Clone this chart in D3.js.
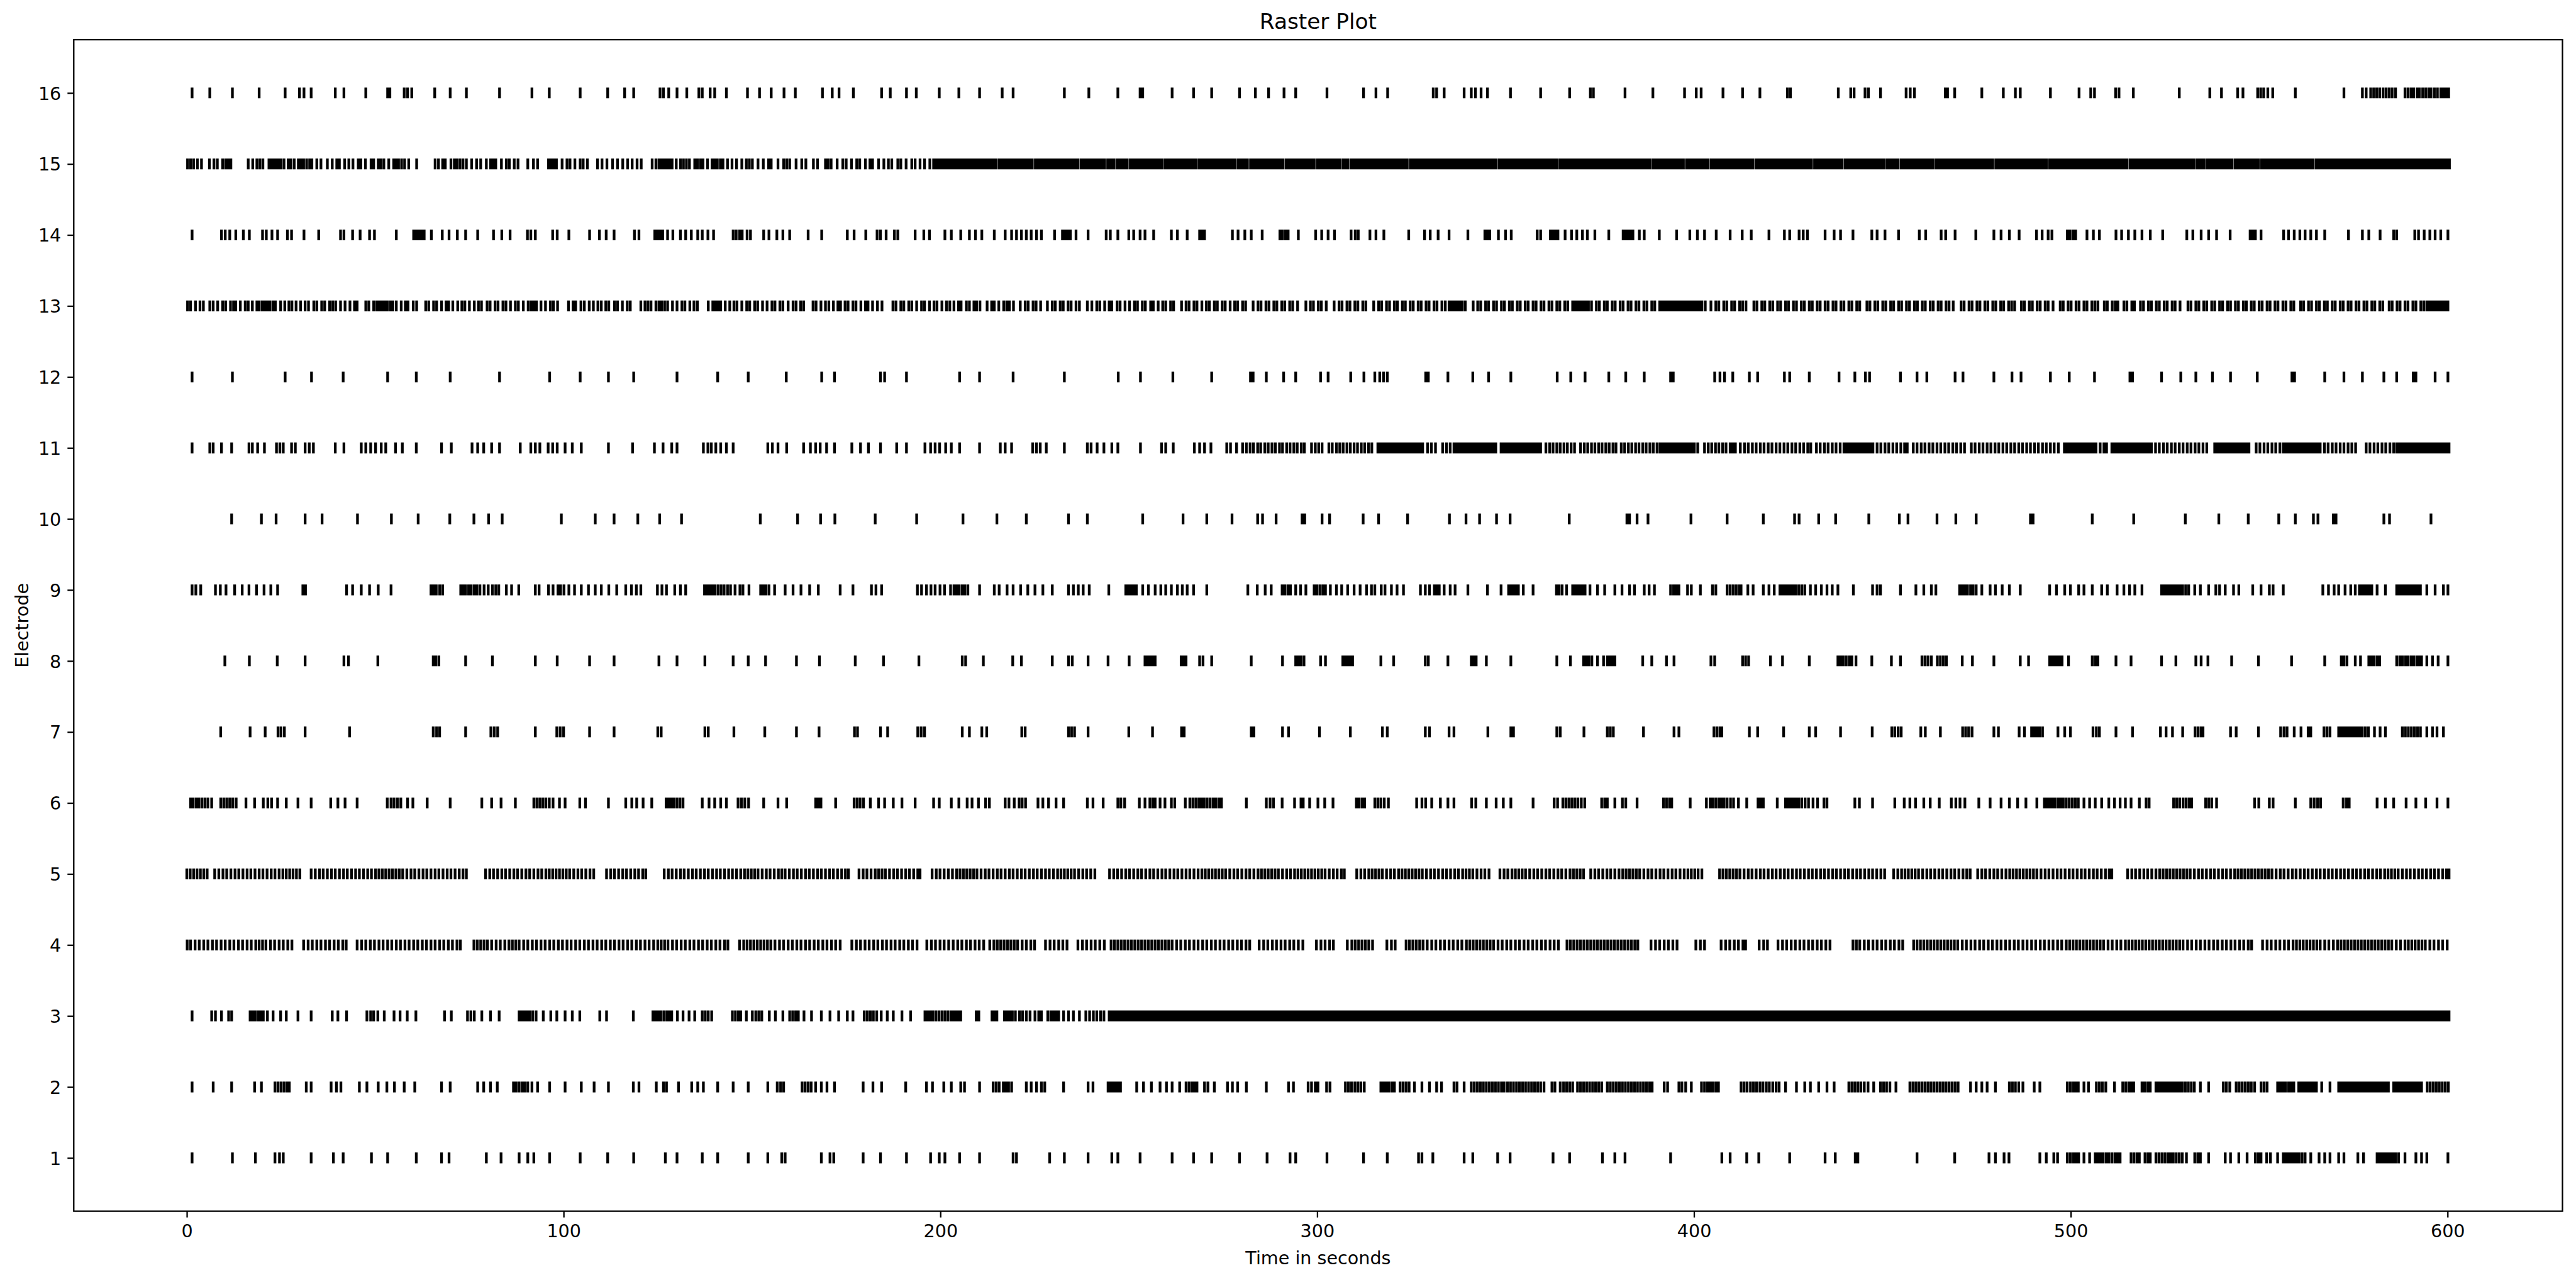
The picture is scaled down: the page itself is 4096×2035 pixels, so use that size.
<!DOCTYPE html>
<html><head><meta charset="utf-8">
<script src="https://cdn.jsdelivr.net/npm/d3@7"></script>
<style>html,body{margin:0;padding:0;background:#fff;}svg{display:block;}</style>
</head><body>
<script>
const chartTitle = "Raster Plot";
const xLabel = "Time in seconds";
const yLabel = "Electrode";
const xTicks = [0, 100, 200, 300, 400, 500, 600];
const electrodes = [1, 2, 3, 4, 5, 6, 7, 8, 9, 10, 11, 12, 13, 14, 15, 16];

const e1 = [1.4,12.1,18.2,23.4,24.6,25.6,33.0,38.9,41.5,49.0,53.3,60.9,67.6,69.6,79.5,83.4,88.2,90.5,92.1,96.3,104.4,111.7,118.6,127.0,130.1,136.8,140.9,149.0,154.2,157.9,158.8,168.4,170.7,171.7,179.5,184.1,191.0,197.4,199.7,201.2,
205.1,210.4,219.3,220.2,229.0,232.9,239.2,245.5,247.1,253.0,261.5,267.2,272.0,279.4,286.7,292.8,294.3,302.6,312.3,318.6,326.9,327.8,330.7,339.0,341.3,347.9,351.2,362.6,367.0,375.7,379.0,381.7,393.8,
407.4,409.6,414.0,417.2,425.4,434.8,437.5,442.8,443.5,459.2,469.2,478.3,480.0,482.3,483.6,491.8,493.5,495.5,496.5,499.1,499.9,500.7,501.4,502.1,503.5,505.0,506.5,507.2,507.9,508.6,509.4,510.1,510.9,511.7,512.4,513.1,516.0,516.8,517.6,518.2,519.7,520.5,521.1,522.6,523.4,524.2,525.0,525.8,526.5,527.2,528.0,528.8,529.6,530.7,532.9,533.7,534.4,536.6,541.0,542.4,544.6,546.8,549.0,549.8,550.5,552.0,553.0,554.9,556.4,557.1,557.8,558.5,559.2,559.9,560.6,561.4,562.2,563.7,565.9,567.4,568.8,571.1,572.5,576.2,577.7,581.3,582.0,582.7,583.4,584.1,584.8,585.5,586.2,587.0,588.7,591.6,593.1,594.5,600.1];

const e2 = [1.4,7.0,11.9,18.0,19.8,23.4,24.2,25.0,25.8,26.6,27.2,31.7,33.0,38.3,39.7,40.9,45.8,47.8,50.8,53.1,55.1,57.7,60.5,67.6,69.9,77.2,78.8,80.6,82.4,86.7,87.4,88.2,89.0,89.7,90.5,91.6,93.1,96.3,100.4,104.7,108.1,111.9,118.5,120.0,124.6,126.5,127.3,130.5,134.0,135.6,137.1,140.9,145.0,149.0,154.2,156.7,157.6,158.4,163.3,164.1,164.9,165.7,166.9,168.4,169.9,171.9,179.5,182.1,184.4,190.8,196.3,197.9,200.9,
202.9,205.4,206.4,210.4,214.0,214.8,215.6,216.7,217.4,218.1,218.9,222.8,224.1,225.5,226.8,227.7,232.7,239.2,240.5,244.5,245.2,245.9,246.6,247.3,247.8,252.1,253.9,256.0,258.3,260.0,261.5,263.5,265.2,266.0,266.8,267.5,268.1,270.1,271.0,272.7,276.2,277.5,278.9,281.2,286.5,292.4,293.7,297.6,298.5,299.5,300.2,302.5,303.4,307.5,308.3,309.1,310.0,310.8,311.6,312.5,316.9,317.6,318.3,319.0,319.8,320.5,322.0,322.8,323.6,324.4,325.8,327.8,329.8,331.7,333.0,336.3,337.1,339.0,
340.9,341.7,342.5,343.3,344.1,344.9,345.7,346.5,347.3,348.1,348.9,349.6,350.5,351.3,352.1,352.9,353.7,354.5,355.3,356.1,356.9,357.7,358.5,359.3,360.2,362.3,363.1,364.5,365.4,366.2,367.0,367.8,369.1,369.9,370.7,371.5,372.3,373.1,373.9,374.7,375.5,377.0,377.8,378.6,379.4,380.2,381.0,381.8,382.6,383.4,384.2,385.0,385.8,386.6,387.4,388.2,388.9,392.1,393.0,396.0,396.8,397.8,399.3,402.0,402.8,403.6,
404.3,405.0,405.8,406.5,412.5,413.3,414.1,415.0,415.8,416.6,417.5,418.3,419.2,420.0,420.9,421.8,422.6,424.3,427.2,429.4,430.9,433.1,435.3,437.2,441.1,441.9,442.7,443.5,444.3,445.2,446.2,447.7,449.5,450.3,451.1,452.0,453.6,457.3,458.1,458.9,459.7,460.5,461.3,462.1,462.9,463.7,464.5,465.3,466.1,466.9,467.7,468.5,469.3,470.1,473.4,474.9,476.4,477.8,480.0,483.7,484.5,485.3,486.2,487.3,490.3,491.8,499.1,499.9,500.7,501.4,502.0,503.5,504.7,506.8,507.6,508.4,509.3,511.6,513.8,514.6,515.4,516.1,516.7,518.9,519.6,520.4,521.1,522.6,523.3,524.0,524.7,525.4,526.1,526.8,527.5,528.2,528.9,529.6,530.4,531.2,532.0,532.8,534.4,536.6,540.5,541.3,542.2,543.9,544.7,545.5,546.3,547.1,547.9,548.8,550.5,551.3,552.1,554.9,555.6,556.3,557.0,557.8,558.5,559.2,560.5,561.2,561.9,562.6,563.3,564.0,564.7,565.2,566.6,568.8,571.1,571.8,572.5,573.2,573.9,574.6,575.3,576.0,576.7,577.4,578.1,578.8,579.5,580.2,580.9,581.6,582.3,583.0,583.7,584.3,585.7,586.4,587.1,587.8,588.5,589.2,589.9,590.6,591.3,592.0,592.7,593.1,594.6,595.4,596.2,597.0,597.8,598.6,599.4,600.2];

const e3 = [1.4,6.6,7.6,9.2,11.1,11.9,16.8,17.5,18.2,19.0,19.7,20.3,21.4,22.9,24.9,26.4,29.5,33.0,38.6,40.1,42.4,47.8,48.8,49.6,50.7,52.4,55.0,56.6,58.5,60.8,68.4,70.2,74.5,75.4,76.3,78.3,80.6,82.9,88.2,88.9,89.6,90.3,91.0,91.8,92.7,94.6,96.6,98.2,100.4,102.3,104.3,109.6,111.4,118.5,123.7,124.4,125.1,125.8,126.6,127.4,128.1,128.7,130.2,131.7,133.3,134.8,136.8,137.6,138.4,139.3,144.8,145.6,146.4,147.0,148.5,150.1,151.0,151.8,152.6,154.6,156.2,158.2,160.0,160.8,161.6,162.3,163.8,165.8,168.4,170.7,173.0,175.3,176.8,179.8,180.6,181.4,182.2,183.1,184.3,185.9,187.5,189.8,192.1,195.9,196.6,197.3,198.0,198.8,199.6,200.4,201.2,202.0,202.8,
203.5,204.2,204.9,205.4,209.5,210.2,213.7,214.4,215.0,217.0,217.7,218.4,219.1,219.9,221.0,221.8,222.8,223.8,225.1,226.1,226.8,228.5,229.3,230.0,230.7,231.4,232.7,234.0,235.3,236.9,238.6,239.6,240.6,241.5,242.5,243.4,
244.8,245.5,246.2,246.9,247.6,248.3,249.0,249.7,250.4,251.1,251.8,252.5,253.2,253.9,254.6,255.3,256.0,256.7,257.4,258.1,
258.8,259.5,260.2,260.9,261.6,262.3,263.0,263.7,264.4,265.1,265.8,266.5,267.2,267.9,268.6,269.3,270.0,270.7,271.4,272.1,
272.8,273.5,274.2,274.9,275.6,276.3,277.0,277.7,278.4,279.1,279.8,280.5,281.2,281.9,282.6,283.3,284.0,284.7,285.4,286.1,
286.8,287.5,288.2,288.9,289.6,290.3,291.0,291.7,292.4,293.1,293.8,294.5,295.2,295.9,296.6,297.3,298.0,298.7,299.4,300.1,
300.8,301.5,302.2,302.9,303.6,304.3,305.0,305.7,306.4,307.1,307.8,308.5,309.2,309.9,310.6,311.3,312.0,312.7,313.4,314.1,
314.8,315.5,316.2,316.9,317.6,318.3,319.0,319.7,320.4,321.1,321.8,322.5,323.2,323.9,324.6,325.3,326.0,326.7,327.4,328.1,
328.8,329.5,330.2,330.9,331.6,332.3,333.0,333.7,334.4,335.1,335.8,336.5,337.2,337.9,338.6,339.3,340.0,340.7,341.4,342.1,
342.8,343.5,344.2,344.9,345.6,346.3,347.0,347.7,348.4,349.1,349.8,350.5,351.2,351.9,352.6,353.3,354.0,354.7,355.4,356.1,
356.8,357.5,358.2,358.9,359.6,360.3,361.0,361.7,362.4,363.1,363.8,364.5,365.2,365.9,366.6,367.3,368.0,368.7,369.4,370.1,
370.8,371.5,372.2,372.9,373.6,374.3,375.0,375.7,376.4,377.1,377.8,378.5,379.2,379.9,380.6,381.3,382.0,382.7,383.4,384.1,
384.8,385.5,386.2,386.9,387.6,388.3,389.0,389.7,390.4,391.1,391.8,392.5,393.2,393.9,394.6,395.3,396.0,396.7,397.4,398.1,
398.8,399.5,400.2,400.9,401.6,402.3,403.0,403.7,404.4,405.1,405.8,406.5,407.2,407.9,408.6,409.3,410.0,410.7,411.4,412.1,
412.8,413.5,414.2,414.9,415.6,416.3,417.0,417.7,418.4,419.1,419.8,420.5,421.2,421.9,422.6,423.3,424.0,424.7,425.4,426.1,
426.8,427.5,428.2,428.9,429.6,430.3,431.0,431.7,432.4,433.1,433.8,434.5,435.2,435.9,436.6,437.3,438.0,438.7,439.4,440.1,
440.8,441.5,442.2,442.9,443.6,444.3,445.0,445.7,446.4,447.1,447.8,448.5,449.2,449.9,450.6,451.3,452.0,452.7,453.4,454.1,
454.8,455.5,456.2,456.9,457.6,458.3,459.0,459.7,460.4,461.1,461.8,462.5,463.2,463.9,464.6,465.3,466.0,466.7,467.4,468.1,
468.8,469.5,470.2,470.9,471.6,472.3,473.0,473.7,474.4,475.1,475.8,476.5,477.2,477.9,478.6,479.3,480.0,480.7,481.4,482.1,
482.8,483.5,484.2,484.9,485.6,486.3,487.0,487.7,488.4,489.1,489.8,490.5,491.2,491.9,492.6,493.3,494.0,494.7,495.4,496.1,
496.8,497.5,498.2,498.9,499.6,500.3,501.0,501.7,502.4,503.1,503.8,504.5,505.2,505.9,506.6,507.3,508.0,508.7,509.4,510.1,
510.8,511.5,512.2,512.9,513.6,514.3,515.0,515.7,516.4,517.1,517.8,518.5,519.2,519.9,520.6,521.3,522.0,522.7,523.4,524.1,
524.8,525.5,526.2,526.9,527.6,528.3,529.0,529.7,530.4,531.1,531.8,532.5,533.2,533.9,534.6,535.3,536.0,536.7,537.4,538.1,
538.8,539.5,540.2,540.9,541.6,542.3,543.0,543.7,544.4,545.1,545.8,546.5,547.2,547.9,548.6,549.3,550.0,550.7,551.4,552.1,
552.8,553.5,554.2,554.9,555.6,556.3,557.0,557.7,558.4,559.1,559.8,560.5,561.2,561.9,562.6,563.3,564.0,564.7,565.4,566.1,
566.8,567.5,568.2,568.9,569.6,570.3,571.0,571.7,572.4,573.1,573.8,574.5,575.2,575.9,576.6,577.3,578.0,578.7,579.4,580.1,
580.8,581.5,582.2,582.9,583.6,584.3,585.0,585.7,586.4,587.1,587.8,588.5,589.2,589.9,590.6,591.3,592.0,592.7,593.4,594.1,
594.8,595.5,596.2,596.9,597.6,598.3,599.0,599.7,600.4];

const e4 = [0.1,1.0,2.2,3.3,4.5,5.6,6.8,7.9,9.1,10.2,11.4,12.5,13.7,14.8,16.0,17.1,18.3,19.2,20.1,21.0,22.2,23.3,24.5,25.6,26.8,27.9,31.0,32.2,33.3,34.5,35.6,36.8,37.9,39.1,40.2,41.4,42.3,45.2,46.4,47.5,48.7,49.8,51.0,52.1,53.3,54.4,55.6,56.7,57.9,59.0,60.2,61.3,62.5,63.6,64.8,65.9,67.1,68.2,69.4,70.5,71.7,72.6,76.2,77.1,78.0,78.9,79.8,80.9,82.1,83.2,84.4,85.5,86.4,87.3,88.2,89.4,90.5,91.7,92.8,94.0,95.1,96.3,97.4,98.6,99.7,100.9,102.0,103.2,104.3,105.5,106.6,107.8,108.9,110.1,111.2,112.4,113.5,114.7,115.8,117.0,118.1,119.3,120.4,121.6,122.7,123.9,125.0,125.9,126.8,127.7,128.9,130.0,131.2,132.3,133.5,134.6,135.8,136.9,138.1,139.2,140.4,141.5,142.7,143.6,146.7,147.8,148.7,149.6,150.5,151.4,152.3,153.2,154.1,155.0,156.1,157.3,158.4,159.6,160.7,161.9,163.0,164.2,165.3,166.5,167.6,168.8,169.9,171.1,172.2,173.4,176.5,177.7,178.8,180.0,181.1,182.3,183.4,184.6,185.7,186.9,188.0,189.2,190.3,191.5,192.6,193.8,196.4,197.6,198.7,199.9,201.0,202.2,
203.4,204.6,205.7,206.9,208.0,209.2,210.3,211.5,213.1,214.2,215.1,216.0,216.9,217.8,218.7,219.6,220.5,221.7,222.8,224.0,225.0,227.9,229.1,230.2,231.4,232.5,233.6,236.5,237.7,238.8,240.0,241.1,242.3,243.5,245.3,246.2,247.1,248.0,248.9,249.8,250.7,251.6,252.5,253.4,254.3,255.2,256.1,257.0,257.9,258.8,259.7,260.6,261.5,262.7,263.8,265.0,266.1,267.3,268.4,269.6,270.7,271.9,273.0,274.2,275.3,276.5,277.6,278.8,279.9,281.1,282.1,284.6,285.8,286.9,288.1,289.2,290.4,291.5,292.7,293.8,295.0,296.2,299.8,301.0,302.1,303.3,304.3,308.0,309.2,310.1,311.0,311.9,312.8,313.7,314.7,318.5,319.7,320.7,323.6,324.5,325.4,326.3,327.2,328.1,329.2,330.4,331.5,332.7,333.8,335.0,336.1,337.3,338.4,339.6,340.5,341.4,342.3,343.2,344.1,345.0,345.9,346.8,348.0,349.1,350.3,351.4,352.6,353.7,354.9,356.0,357.2,358.3,359.5,360.6,361.8,362.9,364.0,366.3,367.2,368.1,369.0,369.9,370.8,371.7,372.6,373.5,374.4,375.3,376.2,377.1,378.0,378.9,379.8,380.7,381.6,382.5,383.4,384.3,385.1,388.6,389.8,390.9,392.1,393.2,394.4,395.5,400.5,401.7,402.8,
407.2,408.4,409.5,410.7,411.8,413.0,413.7,417.3,418.5,419.5,422.3,423.5,424.6,425.8,426.9,428.1,429.2,430.4,431.5,432.7,433.8,435.0,436.1,442.2,443.1,444.0,445.2,446.3,447.5,448.6,449.8,450.9,452.1,453.2,454.4,455.4,458.3,459.2,460.1,461.0,461.9,462.8,463.7,464.6,465.5,466.4,467.3,468.2,469.1,470.0,471.2,472.3,473.5,474.6,475.8,476.9,478.1,479.2,480.4,481.5,482.7,483.8,485.0,486.1,487.3,488.4,489.6,490.7,491.9,493.0,494.2,495.3,496.5,497.6,498.8,499.7,500.6,501.5,502.4,503.3,504.2,505.1,506.0,506.9,507.8,508.7,509.9,511.0,512.2,513.3,514.5,515.4,516.3,517.2,518.1,519.0,519.9,520.8,521.7,522.6,523.5,524.4,525.3,526.2,527.1,528.0,528.9,529.8,531.0,532.1,533.3,534.4,535.6,536.7,537.9,539.0,540.2,541.3,542.5,543.6,544.8,545.9,547.1,548.0,550.9,552.1,553.2,554.4,555.5,556.7,557.8,559.0,559.9,560.8,561.7,562.6,563.5,564.4,565.3,566.2,567.4,568.5,569.7,570.8,571.7,572.6,573.5,574.4,575.3,576.2,577.1,578.0,578.9,579.8,580.7,581.6,582.5,583.4,584.3,585.2,586.4,587.5,588.7,589.6,590.5,591.4,592.3,593.2,594.1,595.3,596.4,597.6,598.7,599.9];

const e5 = [0.0,0.9,1.8,2.7,3.6,4.5,5.4,7.4,8.5,9.6,10.6,11.7,12.8,13.8,14.9,16.0,17.0,18.1,19.2,20.2,21.3,22.4,23.4,24.5,25.5,26.4,27.3,28.2,29.1,30.0,33.0,34.1,35.2,36.2,37.3,38.4,39.4,40.5,41.6,42.6,43.7,44.8,45.8,46.9,48.0,49.0,50.1,51.0,51.9,52.8,53.7,54.6,55.5,56.4,57.3,58.4,59.5,60.5,61.6,62.7,63.7,64.8,65.9,66.9,68.0,69.1,70.1,71.2,72.3,73.3,74.2,79.3,80.4,81.4,82.5,83.6,84.6,85.7,86.8,87.8,88.9,90.0,91.0,92.1,93.2,94.2,95.3,96.2,97.1,98.0,98.9,99.8,100.7,101.6,102.7,103.8,104.8,105.9,107.0,108.0,111.4,112.5,113.5,114.6,115.7,116.7,117.8,118.9,119.9,121.0,121.8,126.7,127.8,128.8,129.9,131.0,132.0,133.1,134.2,135.2,136.3,137.4,138.4,139.5,140.6,141.6,142.7,143.8,144.8,145.9,147.0,148.0,148.9,149.8,150.7,151.6,152.7,153.8,154.8,155.9,157.0,157.9,158.8,159.9,161.0,162.0,163.1,164.2,165.2,166.3,167.4,168.4,169.5,170.6,171.6,172.7,173.8,174.8,175.6,178.4,179.5,180.5,181.6,182.7,183.6,184.5,185.4,186.5,187.6,188.6,189.7,190.8,191.8,192.9,194.0,194.6,197.8,198.9,199.9,201.0,202.1,
203.2,204.3,205.2,206.1,207.0,207.9,208.8,209.7,210.8,211.9,212.9,214.0,215.1,216.1,217.2,218.3,219.3,220.4,221.5,222.5,223.6,224.7,225.7,226.8,227.9,228.9,230.0,231.1,232.0,232.9,233.8,234.7,235.6,236.7,237.8,238.8,239.9,241.0,244.9,246.0,247.0,248.1,249.2,250.2,251.3,252.4,253.4,254.5,255.6,256.6,257.7,258.8,259.8,260.9,262.0,263.0,264.1,265.2,266.2,267.3,268.4,269.4,270.3,271.2,272.1,273.0,273.9,274.8,275.7,276.8,277.9,278.9,280.0,281.1,282.1,283.2,284.3,285.2,286.1,287.0,287.9,288.8,289.7,290.8,291.9,292.9,294.0,294.9,295.8,296.7,297.6,298.5,299.4,300.3,301.2,302.1,303.2,304.3,305.3,306.4,307.2,310.5,311.6,312.6,313.7,314.6,315.5,316.4,317.3,318.4,319.5,320.5,321.6,322.5,323.4,324.3,325.2,326.1,327.0,327.9,329.0,330.1,331.1,332.2,333.3,334.3,335.4,336.5,337.5,338.6,339.5,340.4,341.3,342.4,343.5,344.5,345.6,348.5,349.6,350.6,351.7,352.6,353.5,354.4,355.3,356.4,357.5,358.5,359.6,360.7,361.7,362.8,363.9,364.9,366.0,367.1,368.0,368.9,369.8,370.7,372.6,373.7,374.7,375.8,376.9,377.9,379.0,380.1,381.1,382.0,382.9,383.8,384.7,385.6,386.7,387.8,388.8,389.9,391.0,392.0,393.1,394.2,395.2,396.3,397.4,398.4,399.3,400.2,401.1,402.1,
406.8,407.7,408.6,409.5,410.4,411.3,412.2,413.3,414.4,415.4,416.5,417.6,418.6,419.7,420.8,421.8,422.9,424.0,425.0,426.1,427.2,428.2,429.3,430.4,431.4,432.5,433.6,434.6,435.7,436.8,437.8,438.9,440.0,441.0,442.1,443.2,444.2,445.3,446.4,447.4,448.5,449.6,450.6,453.0,454.1,455.1,456.0,456.9,457.8,458.7,459.6,460.7,461.8,462.8,463.9,465.0,466.0,467.1,468.2,469.2,470.3,471.4,472.4,473.3,475.3,476.4,477.4,478.5,479.6,480.6,481.7,482.8,483.8,484.7,485.6,486.5,487.4,488.3,489.2,490.1,491.0,492.1,493.2,494.2,495.3,496.4,497.4,498.5,499.6,500.6,501.7,502.8,503.8,504.9,506.0,507.0,508.1,509.2,510.2,510.9,515.1,516.2,517.2,518.3,519.4,520.4,521.5,522.6,523.6,524.5,525.4,526.3,527.2,528.1,529.0,529.9,530.8,531.7,532.8,533.9,534.9,536.0,537.1,538.1,539.2,540.3,541.3,542.4,543.5,544.4,545.3,546.2,547.1,548.0,548.9,549.8,550.7,551.6,552.5,553.4,554.5,555.6,556.6,557.7,558.8,559.8,560.9,562.0,563.0,564.1,565.2,566.2,567.3,568.4,569.4,570.5,571.6,572.6,573.7,574.8,575.8,576.9,578.0,579.0,580.1,581.2,582.2,583.3,584.2,585.1,586.0,586.9,588.0,589.1,590.1,591.2,592.3,593.3,594.4,595.5,596.5,597.6,598.7,599.7,600.4];

const e6 = [1.0,1.7,2.5,3.2,4.0,4.8,5.6,6.6,9.0,9.8,10.6,11.4,12.2,13.1,15.7,18.0,20.3,21.5,22.5,24.1,26.4,29.5,33.0,38.2,40.1,42.0,45.2,53.2,54.2,55.0,55.9,56.8,58.6,60.0,63.8,69.9,78.3,80.9,83.4,87.2,92.1,92.9,93.7,94.5,95.3,96.2,97.2,98.9,100.4,104.3,105.8,111.9,116.5,118.1,119.4,121.1,123.4,127.2,127.9,128.6,129.3,130.1,130.9,131.7,136.8,138.6,140.1,141.7,143.2,146.3,147.2,148.1,149.1,153.1,156.9,159.2,166.9,167.6,168.3,172.2,177.1,177.9,178.7,179.6,181.4,183.6,185.2,187.5,189.8,193.3,198.2,199.7,
202.9,204.9,207.1,208.4,210.1,212.0,213.0,217.2,218.2,219.6,220.9,221.7,222.6,225.9,227.2,228.7,230.7,232.7,239.0,240.5,243.2,247.1,247.9,248.9,252.8,254.3,255.6,256.4,257.0,258.3,259.6,261.3,262.2,265.0,266.2,267.0,267.8,268.6,269.3,270.0,270.8,271.6,272.4,273.1,273.9,274.6,281.2,286.5,287.5,288.4,290.7,294.0,295.7,296.3,298.0,300.2,302.0,304.2,310.4,311.1,311.9,312.6,315.3,316.1,316.9,317.8,318.9,326.4,327.8,328.8,330.4,332.7,334.7,336.3,341.0,342.1,344.9,347.5,349.4,351.4,357.3,362.9,363.8,365.2,366.0,366.8,367.6,368.4,369.2,370.1,371.0,375.5,376.3,377.0,379.0,381.0,381.9,384.9,391.9,392.7,393.5,394.1,399.0,403.3,
404.3,405.0,405.8,406.6,407.3,408.0,408.8,409.7,410.5,411.8,414.0,417.0,417.7,418.4,422.1,424.3,425.0,425.7,426.4,427.1,427.8,428.6,429.5,430.4,431.6,432.8,434.5,435.3,442.7,443.9,447.4,453.3,455.8,457.3,458.8,461.0,462.7,465.1,468.3,469.5,470.6,471.9,475.6,478.6,481.5,483.7,485.9,488.1,491.0,493.0,493.7,494.4,495.1,495.8,496.6,497.3,498.0,498.8,499.6,500.4,501.2,502.0,503.5,505.0,506.5,508.2,510.1,511.6,513.1,514.5,516.0,518.2,520.0,520.8,527.3,528.1,528.9,529.8,530.6,531.4,532.1,535.8,536.6,537.4,538.7,548.8,549.9,552.7,553.7,559.6,563.7,564.6,565.5,566.3,572.3,573.2,573.9,581.3,583.5,585.7,589.0,591.6,594.2,597.2,600.1];

const e7 = [9.0,16.8,20.8,24.2,25.0,25.9,31.4,43.2,65.4,66.3,67.1,74.0,80.7,81.6,82.5,92.5,98.2,99.1,100.0,106.9,113.4,125.0,125.9,137.5,138.4,145.2,153.4,161.8,167.8,177.2,178.0,184.1,186.0,194.0,194.9,195.8,
205.8,207.7,211.0,212.3,221.6,222.5,234.0,234.8,235.6,239.2,250.0,256.3,264.0,264.7,282.5,283.2,290.8,292.4,300.6,308.8,317.3,318.6,328.7,329.8,335.0,336.3,345.3,351.4,352.1,363.6,364.5,370.8,377.0,377.8,378.6,386.6,394.7,396.0,
405.3,406.1,406.9,407.4,414.7,416.9,423.8,430.6,432.3,438.9,447.3,452.5,453.3,454.2,455.0,460.2,461.4,465.4,471.3,472.1,472.9,473.8,479.6,480.8,486.3,487.7,489.6,490.3,491.0,491.7,492.5,496.6,498.4,499.9,505.9,506.8,507.6,512.0,516.4,523.8,525.3,527.0,529.7,533.0,533.8,534.6,535.1,542.4,543.9,549.8,555.7,556.6,557.4,559.3,561.1,563.0,563.7,567.2,568.0,568.8,571.1,571.8,572.5,573.2,573.9,574.6,575.3,576.0,576.7,577.4,578.2,579.0,580.6,582.1,583.5,588.0,588.8,589.6,590.4,591.2,592.0,592.8,594.5,596.0,597.2,598.9];

const e8 = [10.1,16.6,24.0,31.4,41.7,42.9,50.7,65.4,66.1,66.9,74.0,81.1,92.5,98.3,106.9,113.4,125.3,130.1,137.5,145.0,149.0,153.6,161.8,167.9,177.4,184.9,194.3,
205.8,206.7,211.4,219.2,221.5,229.7,234.0,235.0,239.2,244.5,250.1,254.3,255.0,255.7,256.4,257.0,263.9,264.6,265.2,268.8,269.7,272.0,282.5,290.8,294.3,295.0,295.7,296.5,300.9,302.2,306.8,307.5,308.2,308.9,309.4,316.9,320.3,328.7,329.5,334.7,340.9,341.6,342.2,344.9,351.4,363.6,367.2,370.7,371.4,372.1,372.9,374.4,376.0,377.0,377.7,378.4,379.0,386.4,388.8,392.7,394.7,
404.5,405.5,412.9,413.7,414.5,420.3,423.5,430.6,438.2,438.9,439.6,440.4,441.2,441.9,443.0,447.2,452.4,454.8,460.5,461.3,462.1,463.0,464.6,465.4,466.2,467.0,471.2,473.9,479.6,486.6,488.8,494.4,495.1,495.8,496.5,497.2,497.7,499.4,505.7,506.5,507.2,512.0,516.0,524.1,527.9,533.2,534.6,536.4,542.7,549.8,558.6,567.4,571.8,572.5,573.3,575.5,576.9,579.1,579.8,580.5,581.3,582.0,586.5,587.3,588.0,588.8,589.5,590.3,591.0,591.8,592.5,593.1,594.5,596.0,597.5,600.1];

const e9 = [1.4,2.4,3.7,7.6,8.9,10.4,12.7,14.7,16.5,18.5,20.5,22.3,24.1,30.8,31.5,42.4,44.0,46.3,48.5,50.8,54.2,64.8,65.5,66.2,67.1,67.9,72.7,73.4,74.0,74.8,75.5,76.3,77.0,77.8,78.9,80.0,81.1,82.0,82.8,84.8,86.2,88.1,92.5,93.5,96.0,97.2,98.5,99.2,100.1,101.4,102.9,104.7,106.6,108.4,110.0,112.0,114.1,116.5,118.0,119.3,120.5,124.9,126.1,127.3,129.5,131.0,132.4,137.4,138.1,138.8,139.5,140.2,141.0,141.8,142.6,143.5,144.3,145.5,146.8,147.6,149.2,152.3,153.0,153.7,154.5,156.0,158.8,160.9,163.0,165.3,167.6,173.4,176.8,181.7,182.9,184.4,193.9,195.0,196.3,197.5,198.6,199.9,201.1,202.7,
203.6,204.3,205.0,205.8,206.5,207.3,210.4,214.3,215.6,217.7,219.3,221.3,223.2,225.1,227.2,229.7,234.0,235.3,236.6,237.9,239.5,244.7,249.2,249.9,250.6,251.3,252.0,253.7,255.2,257.0,258.5,259.8,261.3,262.9,264.2,265.5,267.2,270.7,281.6,284.1,286.2,287.8,290.7,291.4,292.2,292.9,294.3,295.6,297.0,299.2,299.9,300.7,301.5,302.2,303.5,305.1,306.5,308.1,309.8,311.4,313.1,314.4,315.3,317.0,318.0,319.7,321.2,322.9,327.4,328.7,329.8,331.1,331.8,332.4,333.7,335.3,336.6,340.0,345.2,348.8,350.8,351.5,352.2,352.9,353.4,354.7,357.3,363.5,364.2,365.0,366.2,367.8,368.5,369.2,369.9,370.5,371.1,372.4,374.4,376.3,379.0,380.9,382.9,384.2,386.8,388.1,389.5,393.8,394.6,395.3,396.0,398.3,399.3,401.7,
404.9,405.8,408.8,409.6,410.4,411.2,412.0,412.5,414.3,415.7,418.4,419.9,421.3,422.8,423.5,424.2,424.9,425.6,426.3,427.0,427.8,428.6,429.4,430.9,432.3,433.8,435.3,436.7,438.2,442.3,447.4,448.6,449.5,454.8,458.9,461.0,463.0,464.2,470.5,471.2,471.9,472.6,473.4,474.1,474.9,476.4,478.6,480.0,481.8,483.7,486.6,494.4,496.2,498.4,499.9,502.1,503.5,505.7,508.2,509.7,512.3,514.1,515.6,517.0,518.9,524.1,524.8,525.5,526.2,526.9,527.6,528.3,529.0,529.7,530.5,531.3,532.9,534.4,536.6,538.5,539.5,541.0,543.2,544.6,548.3,550.5,552.7,553.7,556.4,566.9,568.4,569.9,571.1,572.8,574.3,575.5,576.6,577.3,578.0,578.7,579.4,579.9,581.3,583.5,586.5,587.2,587.9,588.6,589.3,590.0,590.7,591.4,592.1,592.8,594.5,596.7,598.9,600.1];

const e10 = [11.9,19.8,23.7,31.4,35.9,45.3,54.3,61.4,69.8,76.2,80.1,83.7,99.4,108.4,113.4,119.7,125.5,131.3,152.2,162.1,168.2,172.0,182.7,193.7,206.0,215.0,222.8,234.0,239.0,253.7,264.4,270.7,277.4,284.2,285.5,289.1,296.0,296.7,301.3,303.3,312.2,316.3,324.0,335.1,339.5,343.1,347.6,351.2,366.9,382.2,382.9,384.9,387.8,399.2,408.8,418.4,426.7,427.9,433.1,437.6,446.4,454.5,456.8,464.5,469.5,474.9,489.3,490.0,505.7,516.7,530.4,539.3,547.1,555.2,559.6,564.4,565.6,569.7,570.4,583.1,584.6,595.6];

const e11 = [1.4,6.1,7.0,9.2,11.9,16.5,17.4,18.8,20.6,23.8,24.7,25.6,27.8,28.8,31.4,32.5,33.6,39.4,41.7,46.3,47.5,48.8,50.1,51.6,52.8,55.4,57.2,60.9,67.6,70.2,75.7,77.2,78.8,80.9,83.0,88.5,91.3,92.5,93.7,95.9,97.1,98.3,100.4,102.3,104.7,111.9,118.3,124.1,126.4,128.7,130.1,137.1,138.3,139.2,140.4,141.7,143.2,145.0,154.2,155.4,156.9,159.2,163.7,165.5,166.9,168.1,169.8,171.9,176.5,178.8,180.9,184.1,188.4,191.0,195.9,197.4,198.6,199.8,201.4,202.9,
205.1,210.4,215.9,217.2,218.9,224.5,225.5,226.5,228.1,232.9,239.0,240.0,241.6,243.4,245.5,247.1,253.1,258.7,259.8,261.8,267.4,268.8,270.1,271.8,276.0,277.0,278.6,280.2,
281.2,282.2,283.1,284.2,285.0,286.1,287.0,288.0,288.9,290.0,290.8,291.9,292.8,293.8,294.7,295.8,296.6,298.5,299.5,300.4,301.3,303.1,304.0,305.1,306.0,306.9,307.9,308.8,309.8,310.7,311.7,312.6,313.6,314.5,316.1,316.8,317.5,318.2,318.9,319.6,320.3,321.0,321.7,322.4,323.1,323.8,324.5,325.2,325.9,326.6,327.3,328.0,329.3,330.3,331.4,333.3,334.3,335.3,336.3,337.0,337.7,338.4,339.1,339.8,340.5,341.2,341.9,342.6,343.3,344.0,344.7,345.4,346.1,346.8,347.4,348.8,349.5,350.2,350.9,351.6,352.3,353.0,353.7,354.4,355.1,355.8,356.5,357.2,357.9,358.6,359.3,360.7,361.7,362.6,363.6,364.5,365.5,366.4,367.4,368.3,369.9,370.9,371.8,372.8,373.7,374.7,375.6,376.6,377.5,378.5,379.3,380.7,381.6,382.6,383.5,384.5,385.4,386.4,387.3,388.3,389.2,390.2,391.0,391.7,392.4,393.1,393.8,394.5,395.2,395.9,396.6,397.3,398.0,398.7,399.4,400.1,401.0,402.8,403.8,404.7,405.7,406.6,407.6,408.5,409.6,410.3,411.0,412.3,413.4,414.4,415.5,416.5,417.6,418.6,419.7,420.7,421.8,422.8,423.9,424.9,426.0,427.0,428.1,429.1,430.2,431.0,432.5,433.5,434.6,435.6,436.7,437.7,438.8,439.8,440.5,441.2,441.9,442.6,443.3,444.0,444.7,445.4,446.1,446.8,447.5,448.6,449.6,450.7,451.7,452.8,453.8,454.9,455.9,456.6,458.2,459.2,460.3,461.3,462.4,463.4,464.5,465.5,466.6,467.6,468.7,469.7,470.8,471.8,473.6,474.6,475.7,476.7,477.8,478.8,479.9,480.9,482.0,483.0,484.1,485.1,486.2,487.2,488.3,489.3,490.4,491.4,492.5,493.5,494.6,495.6,496.7,498.3,499.0,499.7,500.4,501.1,501.8,502.5,503.2,503.9,504.6,505.3,506.0,506.7,507.8,508.8,509.5,510.9,511.6,512.3,513.0,513.7,514.4,515.1,515.8,516.5,517.2,517.9,518.6,519.3,520.0,520.7,521.4,522.5,523.5,524.6,525.6,526.7,527.7,528.8,529.8,530.9,531.9,533.0,534.0,535.1,536.1,538.2,538.9,539.6,540.3,541.0,541.7,542.4,543.1,543.8,544.5,545.2,545.9,546.6,547.3,549.2,550.2,551.3,552.3,553.4,554.4,555.5,556.4,557.1,557.8,558.5,559.2,559.9,560.6,561.3,562.0,562.7,563.4,564.1,564.8,565.5,566.2,567.3,568.3,569.4,570.4,571.5,572.5,573.6,574.6,575.6,578.4,579.4,580.5,581.5,582.6,583.6,584.7,585.7,586.5,587.2,587.9,588.6,589.3,590.0,590.7,591.4,592.1,592.8,593.5,594.2,594.9,595.6,596.3,597.0,597.7,598.4,599.1,599.8,600.4];

const e12 = [1.4,12.1,26.1,33.1,41.5,53.3,60.9,69.9,83.0,96.3,104.4,111.9,118.6,130.1,140.9,149.0,159.1,168.5,171.9,184.1,185.2,191.0,205.1,210.4,219.3,232.9,247.2,253.1,261.7,272.0,282.3,283.0,286.5,291.1,294.3,300.9,302.9,308.9,312.4,315.3,316.6,317.6,318.6,328.8,329.5,334.7,341.3,345.5,351.4,363.7,367.3,371.1,377.4,381.9,386.8,393.8,394.5,405.5,406.9,408.1,410.3,414.7,416.9,424.0,425.4,430.6,438.5,442.7,445.5,446.6,454.8,459.2,461.8,469.3,471.4,479.6,484.4,486.8,494.6,499.6,506.3,515.7,516.4,524.1,529.2,533.2,537.6,542.4,549.5,558.7,559.4,567.4,572.5,577.4,583.1,586.5,590.9,591.6,596.7,600.1];

const e13 = [0.2,1.0,2.3,3.5,4.4,6.1,7.0,8.2,9.5,10.3,11.6,12.4,13.0,14.2,15.5,16.3,17.4,18.6,19.2,20.0,20.6,21.3,22.0,22.8,23.5,24.9,26.0,27.1,27.9,29.0,30.2,31.4,32.3,33.7,34.5,35.8,36.6,37.9,38.7,39.5,40.8,42.0,43.3,44.5,45.2,47.5,48.3,49.6,50.4,51.1,51.8,52.5,53.2,54.0,54.7,55.6,56.9,58.0,58.7,60.1,61.0,63.4,64.2,65.5,66.3,67.6,68.8,69.5,70.6,71.9,73.0,73.8,75.0,76.3,77.4,78.2,79.7,80.5,81.8,82.6,83.9,84.7,85.9,87.2,88.0,89.3,90.6,91.4,92.1,92.8,94.0,95.2,96.5,97.3,98.4,101.3,102.5,103.2,104.6,105.5,106.8,107.9,109.1,110.0,111.2,112.0,113.5,114.3,115.6,116.9,117.7,120.5,121.6,122.4,123.2,124.5,125.3,126.0,126.8,127.6,128.9,130.1,131.4,132.2,133.5,134.6,135.5,138.4,139.6,140.3,141.0,141.7,142.9,144.1,145.2,146.0,147.3,148.6,149.4,150.7,151.5,152.8,154.0,155.3,156.1,157.4,158.2,159.6,160.9,161.7,162.9,163.7,166.2,167.0,168.3,169.5,170.4,171.6,172.8,173.5,174.7,175.5,176.8,177.6,178.9,180.1,180.8,182.0,183.3,184.5,187.4,188.2,189.5,190.3,191.6,192.4,193.7,195.0,195.8,197.1,198.3,199.1,200.4,201.6,202.5,
203.6,204.8,205.5,206.9,207.7,208.9,209.6,210.5,212.4,213.6,214.3,215.5,216.8,217.6,218.3,219.4,221.2,222.5,223.3,224.6,225.4,226.6,228.4,229.7,230.5,231.8,232.6,233.9,234.7,236.0,236.9,239.0,240.2,241.5,242.3,243.6,244.8,245.5,246.9,247.7,249.0,250.2,251.5,252.3,253.6,254.4,255.8,256.5,257.8,259.0,259.8,261.1,261.9,264.0,265.2,266.0,267.3,268.1,269.4,270.6,271.4,272.7,273.5,274.8,275.6,276.9,278.1,278.9,280.2,281.0,283.0,284.3,285.1,286.4,287.2,288.5,289.3,290.6,291.4,292.7,293.5,294.8,297.0,298.2,299.0,300.3,301.1,302.4,304.5,305.8,306.6,307.9,308.7,310.0,310.8,312.1,312.9,315.0,316.3,317.1,318.4,319.2,320.5,321.3,322.6,323.4,324.7,325.5,326.8,327.6,328.9,329.7,331.0,331.8,333.1,334.0,335.0,335.7,336.4,337.1,337.8,338.5,339.3,341.4,342.6,343.4,344.7,345.5,346.8,347.6,348.9,349.7,351.0,351.8,353.1,353.9,355.2,356.0,357.3,358.1,359.4,360.2,361.5,362.3,363.6,364.4,365.7,366.5,367.8,368.5,369.2,369.9,370.6,371.3,372.0,372.8,374.1,374.9,376.2,377.0,378.3,379.1,380.4,381.2,382.5,383.3,384.6,385.4,386.7,387.5,388.8,389.6,390.9,391.6,392.3,393.0,393.7,394.4,395.1,395.8,396.5,397.2,397.9,398.6,399.3,400.0,400.7,401.4,402.1,403.0,
404.5,405.8,406.6,407.9,408.7,410.0,410.8,412.1,412.9,413.8,415.9,416.7,418.0,418.8,420.1,420.9,422.2,423.0,424.3,425.1,426.4,427.2,428.5,429.3,430.6,431.4,432.7,433.5,434.8,435.6,436.9,437.7,439.0,439.8,441.1,441.9,443.2,444.0,445.9,446.7,448.0,448.8,450.1,450.9,452.2,453.0,454.3,455.1,456.4,457.2,458.5,459.3,460.6,461.4,462.7,463.5,464.8,465.6,466.9,467.7,468.8,470.9,471.7,473.0,473.8,475.1,475.9,477.2,478.0,479.3,480.1,481.4,482.2,483.5,484.3,485.1,486.9,487.7,489.0,489.8,491.1,491.9,493.2,494.0,495.3,497.2,498.0,499.3,500.1,501.4,502.2,503.5,504.3,505.6,506.4,507.2,508.9,509.7,511.0,511.8,512.5,514.1,514.9,516.2,516.9,518.5,519.3,520.6,521.4,522.7,523.5,524.8,525.6,526.9,527.7,529.0,531.1,531.9,533.2,534.0,535.3,536.1,537.4,538.2,539.5,540.3,541.6,542.4,543.7,544.5,545.8,546.6,547.9,548.7,550.0,550.8,552.1,552.9,554.2,555.0,556.3,557.1,558.4,559.2,561.0,561.8,563.1,563.9,565.2,566.0,567.3,568.1,569.4,570.2,571.5,572.3,573.6,574.4,575.7,576.5,577.8,578.6,579.9,580.7,582.0,582.8,584.5,585.3,586.6,587.4,588.7,589.5,590.8,591.6,592.9,593.7,594.5,595.2,595.9,596.6,597.3,598.0,598.7,599.4,600.1];

const e14 = [1.4,9.2,10.2,11.4,13.0,15.0,16.6,20.1,21.1,22.6,24.1,26.7,27.8,31.1,35.0,40.8,41.7,44.0,46.0,48.5,49.8,55.6,60.2,60.9,61.6,62.3,63.0,64.9,67.8,69.6,71.8,74.0,77.2,81.4,83.6,85.8,90.4,91.3,92.5,97.1,98.3,101.4,106.9,109.5,111.3,113.4,118.8,120.0,124.2,124.9,125.6,126.3,127.6,129.0,131.0,132.4,133.9,135.6,136.8,138.3,139.8,145.0,145.8,146.7,147.4,148.7,149.6,153.1,154.5,156.6,158.2,160.0,164.9,168.5,175.3,177.1,180.2,183.2,184.1,185.6,187.8,188.7,193.3,195.6,197.1,201.2,
202.9,205.4,207.7,209.3,211.0,214.3,217.2,218.9,220.2,221.5,222.8,224.1,225.5,226.8,230.3,232.4,233.1,233.8,234.5,236.0,239.2,244.0,245.1,247.1,250.0,251.3,253.0,254.3,256.6,261.3,262.9,265.5,268.8,269.5,270.1,277.5,279.0,280.8,282.5,285.4,290.1,290.8,291.6,292.3,295.0,299.6,301.2,302.9,304.6,309.0,310.1,310.9,314.0,315.6,317.7,324.3,328.5,330.0,332.1,335.0,340.0,344.5,345.2,345.8,348.1,350.0,351.5,358.4,359.3,361.9,362.6,363.3,363.9,365.8,367.5,368.9,370.4,371.7,373.7,377.4,381.2,381.9,382.6,383.3,383.8,385.5,386.8,390.8,395.4,398.9,400.9,402.8,
405.9,409.6,412.8,415.2,419.9,424.0,425.4,427.9,429.0,430.1,434.8,437.2,438.9,442.2,447.2,448.6,450.7,454.3,459.8,461.5,465.6,466.8,469.3,474.8,479.6,481.5,483.7,486.3,490.9,492.4,494.0,495.0,499.1,499.8,500.6,501.3,504.3,506.0,507.6,512.0,513.5,515.3,517.0,518.9,521.1,524.4,530.8,532.4,534.6,536.6,538.7,542.3,547.6,548.3,549.0,550.5,556.5,557.8,559.3,560.8,562.2,563.7,565.2,567.4,573.7,577.4,579.1,582.1,585.7,586.5,591.3,592.3,593.8,595.3,596.7,598.2,600.1];

const e15 = [0.2,1.0,1.8,2.8,3.9,6.0,7.2,8.1,9.5,10.3,11.0,11.7,16.3,17.5,18.6,19.4,20.2,21.8,22.4,23.1,23.8,24.4,25.0,25.8,26.9,27.6,28.5,29.6,30.3,31.0,31.8,32.6,33.2,34.5,35.6,37.3,38.6,39.8,40.5,41.9,43.0,44.1,45.5,46.2,47.4,48.9,49.6,50.8,51.5,52.3,53.6,54.9,55.5,56.2,57.0,57.8,58.9,61.0,65.9,66.8,67.9,68.6,70.1,71.0,71.7,72.5,73.3,74.2,75.6,76.9,78.0,79.5,80.6,81.3,82.0,83.5,84.8,85.6,86.9,87.9,90.5,92.0,93.1,96.0,96.7,97.4,98.1,99.6,100.9,101.7,103.0,104.4,105.2,106.3,109.0,110.2,111.5,113.0,114.3,115.7,117.0,118.2,119.5,120.6,123.5,124.5,125.3,126.0,126.7,127.4,128.1,128.8,129.9,131.0,131.8,132.6,133.4,134.8,135.5,136.3,137.0,138.2,139.4,140.1,140.8,141.6,142.3,143.5,144.7,145.9,147.3,148.5,149.3,150.1,151.6,153.0,154.4,155.1,156.9,158.4,159.2,160.0,161.7,163.2,164.3,166.3,167.4,169.5,170.2,171.0,172.6,174.1,175.0,176.4,177.8,178.6,180.1,181.3,182.0,183.6,185.0,186.2,187.1,188.7,189.5,190.9,192.4,193.3,194.6,195.8,197.2,
198.2,198.9,199.6,200.3,201.0,201.7,202.4,203.1,203.8,204.5,205.2,205.9,206.6,207.3,208.0,208.7,209.4,210.1,210.8,211.5,212.2,212.9,213.6,214.2,214.8,
215.6,216.3,217.0,217.7,218.4,219.1,219.8,220.5,221.2,221.9,222.6,223.3,224.0,224.4,
225.2,225.9,226.6,227.3,228.0,228.7,229.4,230.1,230.8,231.5,232.2,232.9,233.6,234.3,235.0,235.7,236.1,236.5,
237.3,238.0,238.7,239.4,240.1,240.8,241.5,242.2,242.9,243.6,
244.4,245.1,245.7,246.1,246.9,247.6,248.3,249.0,249.6,
250.4,251.1,251.8,252.5,253.2,253.9,254.6,255.3,256.0,256.7,257.4,258.1,258.8,
259.6,260.3,261.0,261.7,262.4,263.1,263.8,264.5,265.2,265.9,266.6,267.3,267.8,
268.6,269.3,270.0,270.7,271.4,272.1,272.8,273.5,274.2,274.9,275.6,276.3,277.0,277.7,278.3,
279.1,279.8,280.5,281.1,281.5,
282.3,283.0,283.7,284.4,285.1,285.8,286.5,287.2,287.9,288.6,289.3,290.0,290.5,290.9,
291.7,292.4,293.1,293.8,294.5,295.2,295.9,296.6,297.3,298.0,298.7,299.2,
300.0,300.7,301.4,302.1,302.8,303.5,304.2,304.9,305.6,306.1,
306.9,307.5,308.1,
308.9,309.6,310.3,311.0,311.7,312.4,313.1,313.8,314.5,315.2,315.9,316.6,317.3,318.0,318.7,319.4,320.1,320.8,321.5,322.2,322.9,323.5,323.9,
324.7,325.4,326.1,326.8,327.5,328.2,328.9,329.6,330.3,331.0,331.7,332.4,333.1,333.8,334.5,335.2,335.9,336.6,337.3,338.0,338.7,339.4,340.1,340.8,341.5,342.2,342.9,343.6,344.3,345.0,345.7,346.4,347.0,347.5,
348.3,349.0,349.7,350.4,351.1,351.8,352.5,353.2,353.9,354.6,355.3,356.0,356.7,357.4,358.1,358.8,359.5,360.2,360.9,361.6,362.3,363.0,363.6,
364.4,365.1,365.8,366.5,367.2,367.9,368.6,369.3,370.0,370.7,371.4,372.1,372.8,373.5,374.2,374.9,375.6,376.3,377.0,377.7,378.4,379.1,379.8,380.5,381.2,381.9,382.6,383.3,384.0,384.7,385.4,386.1,386.8,387.5,388.0,388.4,
389.2,389.9,390.6,391.3,392.0,392.7,393.4,394.1,394.8,395.5,396.2,396.8,397.2,
398.0,398.7,399.4,400.1,400.8,401.5,402.2,402.9,403.4,403.8,
404.6,405.3,406.0,406.7,407.4,408.1,408.8,409.5,410.2,410.9,411.6,412.3,413.0,413.7,414.4,415.1,415.6,
416.4,417.1,417.8,418.5,419.2,419.9,420.6,421.3,422.0,422.7,423.4,424.1,424.8,425.5,426.2,426.9,427.6,428.3,429.0,429.7,430.4,430.8,431.2,
432.0,432.7,433.4,434.1,434.8,435.5,436.2,436.9,437.6,438.3,438.9,439.3,
440.1,440.8,441.5,442.2,442.9,443.6,444.3,445.0,445.7,446.4,447.1,447.8,448.5,449.2,449.8,450.3,
451.1,451.8,452.5,453.2,453.8,454.2,
455.0,455.7,456.4,457.1,457.8,458.5,459.2,459.9,460.6,461.3,462.0,462.7,463.2,463.5,
464.3,465.0,465.7,466.4,467.1,467.8,468.5,469.2,469.9,470.6,471.3,472.0,472.7,473.4,474.1,474.8,475.5,476.2,476.9,477.6,478.3,478.9,479.3,
480.1,480.8,481.5,482.2,482.9,483.6,484.3,485.0,485.7,486.4,487.1,487.8,488.5,489.2,489.9,490.6,491.3,492.0,492.7,493.2,493.6,
494.4,495.1,495.8,496.5,497.2,497.9,498.6,499.3,500.0,500.7,501.4,502.1,502.8,503.5,504.2,504.9,505.6,506.3,507.0,507.7,508.4,509.1,509.8,510.5,511.2,511.9,512.6,513.3,514.0,514.5,514.9,
515.7,516.4,517.1,517.8,518.5,519.2,519.9,520.6,521.3,522.0,522.7,523.4,524.1,524.8,525.5,526.2,526.9,527.6,528.3,529.0,529.7,530.4,531.1,531.8,532.4,532.8,
533.6,534.3,534.9,535.4,
536.2,536.9,537.6,538.3,539.0,539.7,540.4,541.1,541.8,542.4,542.8,
543.6,544.3,545.0,545.7,546.4,547.1,547.8,548.5,549.2,549.8,
550.6,551.3,552.0,552.7,553.4,554.1,554.8,555.5,556.2,556.9,557.6,558.3,559.0,559.7,560.4,561.1,561.8,562.5,563.2,563.8,564.3,
565.1,565.8,566.5,567.2,567.9,568.6,569.3,570.0,570.7,571.4,572.1,572.8,573.5,574.2,574.9,575.6,576.3,577.0,577.7,578.4,579.1,579.8,580.5,581.2,581.9,582.6,583.3,584.0,584.7,585.4,586.1,586.8,587.5,588.2,588.9,589.6,590.3,591.0,591.7,592.4,593.1,593.8,594.5,595.2,595.9,596.6,597.3,598.0,598.7,599.4,600.1,600.5];

const e16 = [1.4,6.1,12.1,19.2,26.1,29.9,31.1,33.0,39.4,41.7,47.5,53.3,53.9,57.7,58.6,59.7,65.8,69.9,74.2,83.0,91.6,96.2,104.4,111.7,116.2,118.6,125.6,126.5,127.9,130.1,132.7,135.9,136.8,138.9,140.1,143.2,148.8,152.0,155.1,158.5,161.5,168.7,171.3,173.1,176.9,184.4,186.7,191.0,193.6,199.7,
204.9,210.4,216.4,219.3,232.9,239.4,247.1,253.0,253.7,261.5,267.2,272.0,279.4,283.6,287.1,291.2,294.3,302.6,312.3,315.6,318.7,330.8,331.7,333.7,339.0,340.9,342.0,343.5,345.2,351.3,359.3,367.0,372.5,373.3,381.7,389.1,397.5,400.6,401.9,
407.7,412.9,417.5,424.8,425.6,438.3,441.6,442.5,445.4,446.3,449.5,456.3,457.4,458.5,466.7,467.3,469.2,476.4,482.1,485.3,486.6,494.6,502.2,505.3,506.3,511.9,512.8,516.6,528.8,536.9,540.0,544.3,545.7,549.6,550.4,551.2,552.3,553.6,559.6,572.5,577.4,578.4,579.6,580.4,581.2,582.0,582.9,583.7,584.5,585.3,586.2,588.7,589.5,590.3,591.0,591.9,592.5,593.4,594.2,595.0,595.6,596.5,597.3,598.2,598.9,599.6,600.3];

const spikeTrains = [e1, e2, e3, e4, e5, e6, e7, e8, e9, e10, e11, e12, e13, e14, e15, e16];

// ---------- layout ----------
const W = 4096, H = 2035;
const plot = { left: 117.3, right: 4074.5, top: 63.1, bottom: 1925.6 };
const FONT = "'DejaVu Sans', sans-serif";
const tickFont = 28.6, titleFont = 34.3;
const lineW = 2.29, tickLen = 10, tickPad = 10;
const spikeHalf = 8.58, spikeW = 4.29;

const x = d3.scaleLinear().domain([-30, 630.5]).range([plot.left, plot.right]);
const y = d3.scaleLinear().domain([0.25, 16.75]).range([plot.bottom, plot.top]);

const svg = d3.select("body").append("svg")
  .attr("width", W).attr("height", H).attr("viewBox", `0 0 ${W} ${H}`);
svg.append("rect").attr("width", W).attr("height", H).attr("fill", "#ffffff");

// spikes: one path per electrode (union of '|' markers)
const gSpikes = svg.append("g").attr("class", "spikes");
electrodes.forEach((el, i) => {
  const p = d3.path();
  const cy = y(el);
  spikeTrains[i].forEach(t => {
    const cx = x(t);
    p.moveTo(cx, cy - spikeHalf);
    p.lineTo(cx, cy + spikeHalf);
  });
  gSpikes.append("path")
    .attr("d", p.toString())
    .attr("fill", "none")
    .attr("stroke", "#000000")
    .attr("stroke-width", spikeW)
    .attr("stroke-linecap", "butt");
});

// axes
const xAxis = d3.axisBottom(x).tickValues(xTicks).tickSize(tickLen).tickPadding(tickPad).tickFormat(d3.format("d"));
const yAxis = d3.axisLeft(y).tickValues(electrodes).tickSize(tickLen).tickPadding(tickPad).tickFormat(d3.format("d"));

const gx = svg.append("g").attr("transform", `translate(0,${plot.bottom})`).call(xAxis);
const gy = svg.append("g").attr("transform", `translate(${plot.left},0)`).call(yAxis);
[gx, gy].forEach(a => {
  a.select(".domain").remove();
  a.selectAll(".tick line").attr("stroke", "#000").attr("stroke-width", lineW);
  a.selectAll(".tick text").attr("font-family", FONT).attr("font-size", tickFont).attr("fill", "#000");
});
gx.selectAll(".tick text").attr("dy", "0.76em");
gy.selectAll(".tick text").attr("dy", "0.36em");

// frame (spines)
svg.append("rect")
  .attr("x", plot.left).attr("y", plot.top)
  .attr("width", plot.right - plot.left).attr("height", plot.bottom - plot.top)
  .attr("fill", "none").attr("stroke", "#000").attr("stroke-width", lineW);

// title and labels
const cxMid = (plot.left + plot.right) / 2;
svg.append("text").attr("x", cxMid).attr("y", 45.9)
  .attr("text-anchor", "middle").attr("font-family", FONT).attr("font-size", titleFont).attr("fill", "#000")
  .text(chartTitle);
svg.append("text").attr("x", cxMid).attr("y", 2010)
  .attr("text-anchor", "middle").attr("font-family", FONT).attr("font-size", tickFont).attr("fill", "#000")
  .text(xLabel);
svg.append("text")
  .attr("transform", `translate(45,${(plot.top + plot.bottom) / 2}) rotate(-90)`)
  .attr("text-anchor", "middle").attr("font-family", FONT).attr("font-size", tickFont).attr("fill", "#000")
  .text(yLabel);
</script>
</body></html>
